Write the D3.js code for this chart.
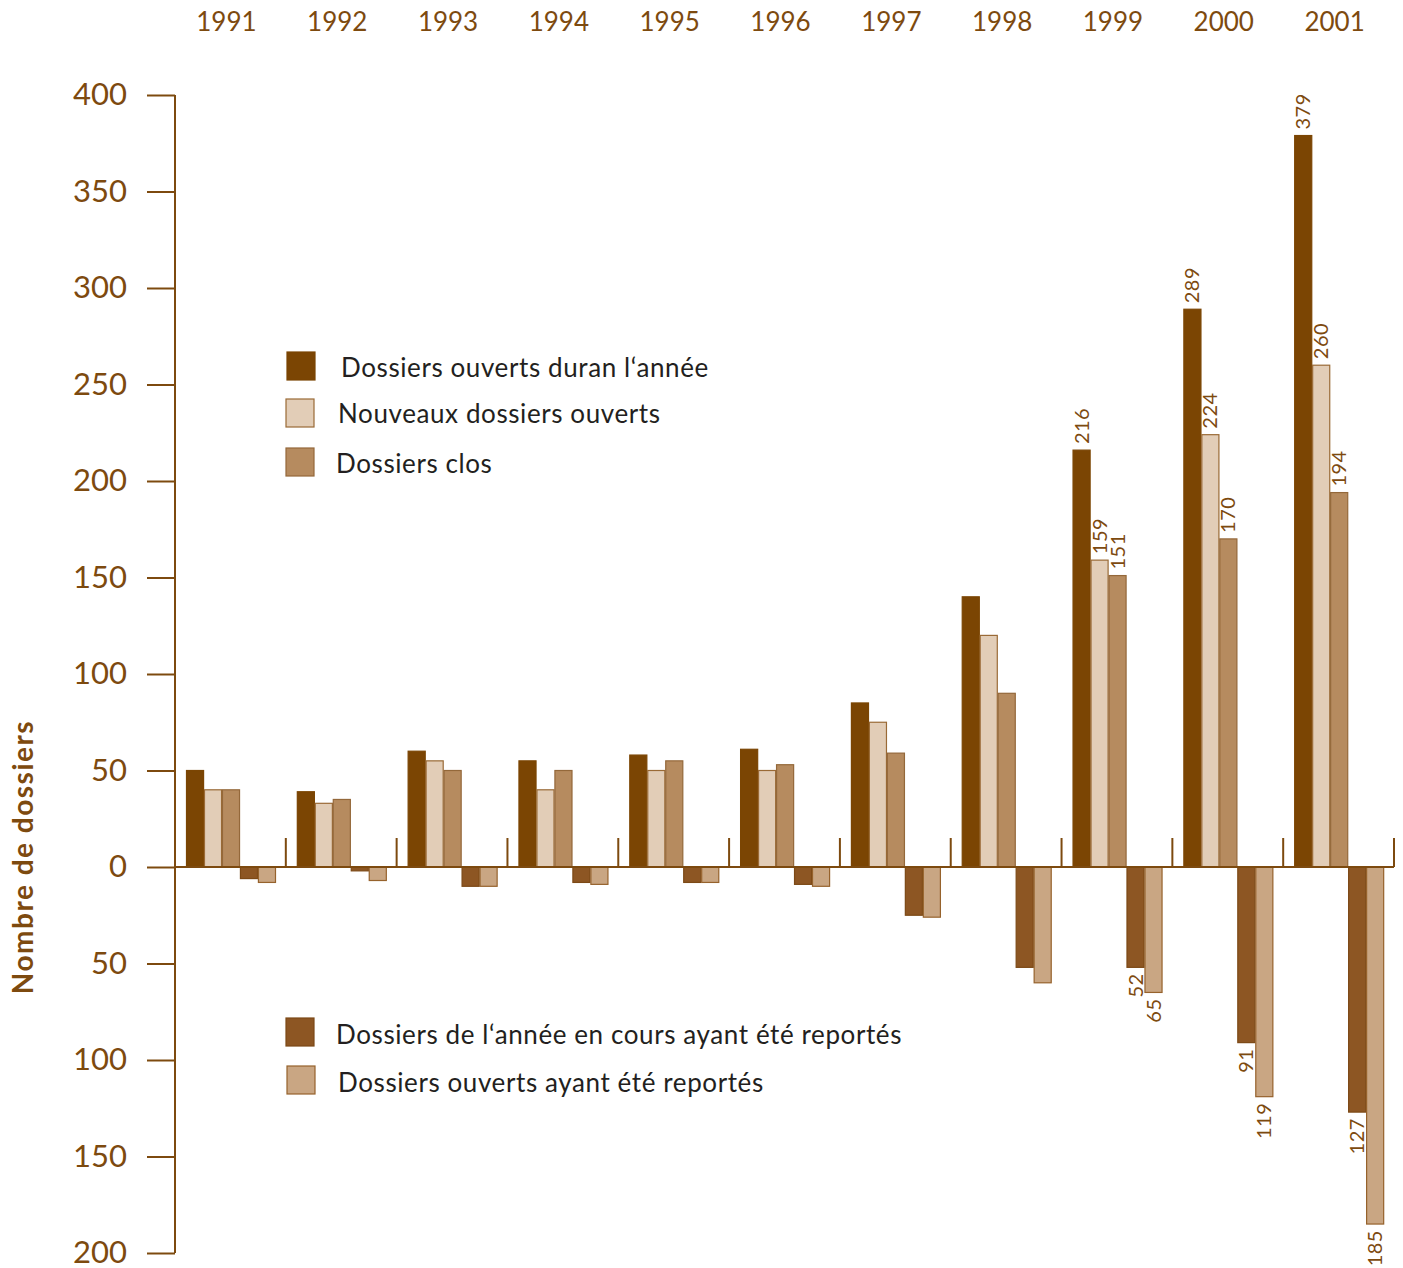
<!DOCTYPE html>
<html>
<head>
<meta charset="utf-8">
<script src="https://cdn.jsdelivr.net/npm/d3@7"></script>
<style>
  html, body { margin: 0; padding: 0; background: #fff; }
  svg { display: block; }
</style>
</head>
<body>
<svg id="chart" width="1403" height="1268"></svg>
<script>
// Years shown along the top
const years = ["1991","1992","1993","1994","1995","1996","1997","1998","1999","2000","2001"];

// Positive series (above zero)
const ouvertsAnnee = [50, 39, 60, 55, 58, 61, 85, 140, 216, 289, 379];
const nouveaux     = [40, 33, 55, 40, 50, 50, 75, 120, 159, 224, 260];
const clos         = [40, 35, 50, 50, 55, 53, 59, 90, 151, 170, 194];

// Negative series (below zero, drawn as magnitudes downward)
const reportesAnnee   = [6, 2, 10, 8, 8, 9, 25, 52, 52, 91, 127];
const reportesOuverts = [8, 7, 10, 9, 8, 10, 26, 60, 65, 119, 185];

// Years whose bars carry value labels
const labelledYears = ["1999", "2000", "2001"];

// Axis tick values and their printed labels
const tickValues = [400, 350, 300, 250, 200, 150, 100, 50, 0, -50, -100, -150, -200];
const tickLabels = ["400","350","300","250","200","150","100","50","0","50","100","150","200"];

const seriesNames = [
  "Dossiers ouverts duran l\u2018année",
  "Nouveaux dossiers ouverts",
  "Dossiers clos",
  "Dossiers de l\u2018année en cours ayant été reportés",
  "Dossiers ouverts ayant été reportés"
];

const fills   = ["#7b4503", "#e2cdb7", "#b68b5f", "#8d5623", "#c9a683"];
const strokes = ["#7b4503", "#9a6a36", "#94683a", "#7c4916", "#96622c"];
const axisCol = "#7d4a0f";
const textCol = "#7d4a0f";
const legendText = "#231f20";
const font = "Lato, 'Noto Sans', sans-serif";

const series = [
  ouvertsAnnee,
  nouveaux,
  clos,
  reportesAnnee.map(v => -v),
  reportesOuverts.map(v => -v)
];

const svg = d3.select("#chart");

const y = d3.scaleLinear().domain([-200, 400]).range([1253, 95]);
const x = d3.scaleBand().domain(years).range([175, 1394]).paddingInner(0).paddingOuter(0);
const sub = d3.scaleBand().domain(d3.range(5)).range([11.5, 100.5]).paddingInner(0.05).paddingOuter(0);

// Bars
const rows = [];
series.forEach((vals, s) => {
  vals.forEach((v, i) => rows.push({ s, year: years[i], v }));
});

svg.append("g").selectAll("rect").data(rows).join("rect")
  .attr("x", d => x(d.year) + sub(d.s))
  .attr("width", sub.bandwidth())
  .attr("y", d => Math.min(y(d.v), y(0)))
  .attr("height", d => Math.abs(y(d.v) - y(0)))
  .attr("fill", d => fills[d.s])
  .attr("stroke", d => strokes[d.s])
  .attr("stroke-width", 1.2);

// Left axis
const yAxis = d3.axisLeft(y)
  .tickValues(tickValues)
  .tickFormat((d, i) => tickLabels[i])
  .tickSize(28)
  .tickPadding(20);

const gy = svg.append("g").attr("transform", "translate(175,0)").call(yAxis);
gy.select(".domain").attr("stroke", axisCol).attr("stroke-width", 2).attr("d", `M0,${y(400)}V${y(-200)}`);
gy.selectAll(".tick line").attr("stroke", axisCol).attr("stroke-width", 2);
gy.selectAll(".tick text")
  .attr("fill", textCol)
  .attr("font-family", font)
  .attr("font-size", 31);

// Zero baseline with year separators
svg.append("line")
  .attr("x1", 175).attr("x2", 1394)
  .attr("y1", y(0)).attr("y2", y(0))
  .attr("stroke", axisCol).attr("stroke-width", 2);

svg.append("g").selectAll("line").data(years).join("line")
  .attr("x1", d => x(d) + x.bandwidth())
  .attr("x2", d => x(d) + x.bandwidth())
  .attr("y1", y(0)).attr("y2", y(0) - 29)
  .attr("stroke", axisCol).attr("stroke-width", 2);

// Year labels along the top
svg.append("g").selectAll("text").data(years).join("text")
  .attr("x", d => x(d) + x.bandwidth() / 2 - 4)
  .attr("y", 31)
  .attr("text-anchor", "middle")
  .attr("fill", textCol)
  .attr("font-family", font)
  .attr("font-size", 26)
  .text(d => d);

// Axis title
svg.append("text")
  .attr("transform", "translate(33,857) rotate(-90)")
  .attr("text-anchor", "middle")
  .attr("fill", textCol)
  .attr("font-family", font)
  .attr("font-weight", "bold")
  .attr("font-size", 28)
  .attr("letter-spacing", 1.5)
  .text("Nombre de dossiers");

// Value labels, rotated
const labelled = rows.filter(d => labelledYears.includes(d.year));
svg.append("g").selectAll("text").data(labelled).join("text")
  .attr("transform", d => {
    const cx = x(d.year) + sub(d.s) + sub.bandwidth() / 2 + 7;
    const yy = d.v >= 0 ? y(d.v) - 6 : y(d.v) + 6;
    return `translate(${cx},${yy}) rotate(-90)`;
  })
  .attr("text-anchor", d => d.v >= 0 ? "start" : "end")
  .attr("fill", textCol)
  .attr("font-family", font)
  .attr("font-size", 20)
  .attr("letter-spacing", 0.5)
  .text(d => Math.abs(d.v));

// Legends
const legendTop = [
  { s: 0, sx: 287, sy: 352, tx: 341, ty: 377 },
  { s: 1, sx: 286, sy: 399, tx: 338, ty: 423 },
  { s: 2, sx: 286, sy: 448, tx: 336, ty: 473 },
  { s: 3, sx: 286, sy: 1018, tx: 336, ty: 1044 },
  { s: 4, sx: 287, sy: 1066, tx: 338, ty: 1092 }
];

const lg = svg.append("g").selectAll("g").data(legendTop).join("g");
lg.append("rect")
  .attr("x", d => d.sx).attr("y", d => d.sy)
  .attr("width", 28).attr("height", 28)
  .attr("fill", d => fills[d.s])
  .attr("stroke", d => strokes[d.s])
  .attr("stroke-width", 1.2);
lg.append("text")
  .attr("x", d => d.tx).attr("y", d => d.ty)
  .attr("fill", legendText)
  .attr("font-family", font)
  .attr("font-size", 26)
  .attr("letter-spacing", 0.6)
  .text(d => seriesNames[d.s]);
</script>
</body>
</html>
